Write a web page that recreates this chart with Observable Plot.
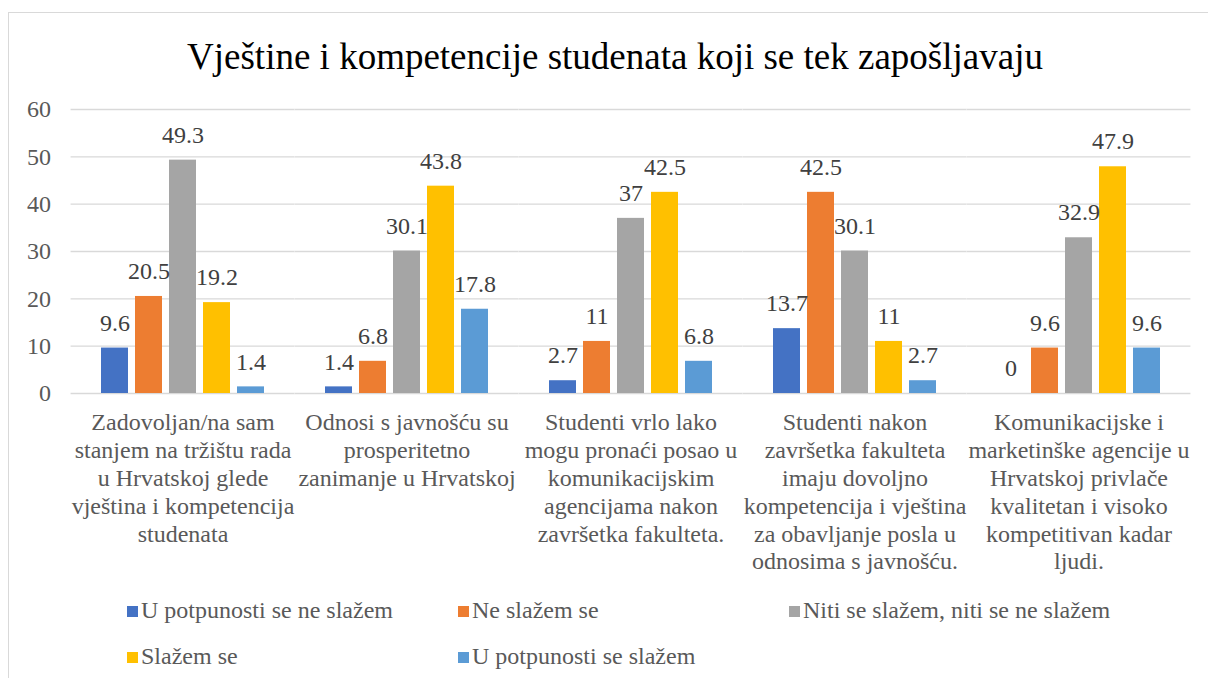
<!DOCTYPE html>
<html>
<head>
<meta charset="utf-8">
<script src="https://cdn.jsdelivr.net/npm/d3@7"></script>
<script src="https://cdn.jsdelivr.net/npm/@observablehq/plot@0.6"></script>
<style>
  html, body { margin: 0; padding: 0; background: #fff; width: 1208px; height: 678px; overflow: hidden; }
  body { position: relative; font-family: "Liberation Serif", "Times New Roman", serif; }
  #frame { position: absolute; left: 8px; top: 12px; width: 1220px; height: 700px; border: 1px solid #d9d9d9; box-sizing: border-box; }
  #title { position: absolute; left: 8px; width: 1214px; top: 38px; text-align: center; font-size: 37px; color: #000; line-height: 37px; white-space: nowrap; }
  #chart { position: absolute; left: 0; top: 90px; }
  .lg { position: absolute; font-size: 24px; color: #595959; line-height: 28px; white-space: nowrap; }
  .lg i { display: inline-block; width: 11px; height: 11px; margin-right: 3px; vertical-align: 1px; }
</style>
</head>
<body>
<div id="frame"></div>
<div id="title">Vještine i kompetencije studenata koji se tek zapošljavaju</div>
<div id="chart"></div>
<div id="legend"></div>
<script>
const categories = [
  "Zadovoljan/na sam stanjem na tržištu rada u Hrvatskoj glede vještina i kompetencija studenata",
  "Odnosi s javnošću su prosperitetno zanimanje u Hrvatskoj",
  "Studenti vrlo lako mogu pronaći posao u komunikacijskim agencijama nakon završetka fakulteta.",
  "Studenti nakon završetka fakulteta imaju dovoljno kompetencija i vještina za obavljanje posla u odnosima s javnošću.",
  "Komunikacijske i marketinške agencije u Hrvatskoj privlače kvalitetan i visoko kompetitivan kadar ljudi."
];
const categoryLabels = [
  "Zadovoljan/na sam\nstanjem na tržištu rada\nu Hrvatskoj glede\nvještina i kompetencija\nstudenata",
  "Odnosi s javnošću su\nprosperitetno\nzanimanje u Hrvatskoj",
  "Studenti vrlo lako\nmogu pronaći posao u\nkomunikacijskim\nagencijama nakon\nzavršetka fakulteta.",
  "Studenti nakon\nzavršetka fakulteta\nimaju dovoljno\nkompetencija i vještina\nza obavljanje posla u\nodnosima s javnošću.",
  "Komunikacijske i\nmarketinške agencije u\nHrvatskoj privlače\nkvalitetan i visoko\nkompetitivan kadar\nljudi."
];
const seriesNames = [
  "U potpunosti se ne slažem",
  "Ne slažem se",
  "Niti se slažem, niti se ne slažem",
  "Slažem se",
  "U potpunosti se slažem"
];
const seriesColors = ["#4472C4", "#ED7D31", "#A5A5A5", "#FFC000", "#5B9BD5"];
const uPotpunostiSeNeSlazem = [9.6, 1.4, 2.7, 13.7, 0];
const neSlazemSe = [20.5, 6.8, 11, 42.5, 9.6];
const nitiSeSlazem = [49.3, 30.1, 37, 30.1, 32.9];
const slazemSe = [19.2, 43.8, 42.5, 11, 47.9];
const uPotpunostiSeSlazem = [1.4, 17.8, 6.8, 2.7, 9.6];
const yTicks = [0, 10, 20, 30, 40, 50, 60];

const seriesValues = [uPotpunostiSeNeSlazem, neSlazemSe, nitiSeSlazem, slazemSe, uPotpunostiSeSlazem];
const data = [];
categories.forEach((c, i) => {
  seriesNames.forEach((s, j) => {
    data.push({category: c, series: s, value: seriesValues[j][i]});
  });
});
const labelOf = new Map(categories.map((c, i) => [c, categoryLabels[i]]));

const W = 1208, mL = 70, mR = 17;
const fxStep = (W - mL - mR) / 5;
const outerGap = fxStep * 0.1;

const chart = Plot.plot({
  width: W,
  height: 490,
  marginTop: 19,
  marginBottom: 187,
  marginLeft: mL,
  marginRight: mR,
  style: {fontFamily: "'Liberation Serif', 'Times New Roman', serif", fontSize: "24px", color: "#595959", background: "transparent"},
  fx: {domain: categories, paddingInner: 0.2, paddingOuter: 0.1, label: null},
  x: {domain: seriesNames, paddingInner: 0.2, paddingOuter: 0.2, axis: null},
  y: {domain: [0, 60], axis: null},
  color: {domain: seriesNames, range: seriesColors},
  marks: [
    Plot.ruleY(yTicks, {y: d => d, stroke: "#d9d9d9", strokeWidth: 1.3, insetLeft: -outerGap, insetRight: -outerGap}),
    Plot.axisY({ticks: yTicks, tickSize: 0, tickPadding: outerGap + 20, fontSize: 24, fill: "#595959", label: null}),
    Plot.axisFx({anchor: "bottom", tickSize: 0, tickPadding: 17, tickFormat: d => labelOf.get(d), lineHeight: 1.16, fontSize: 24, fill: "#595959", label: null}),
    Plot.barY(data, {fx: "category", x: "series", y: "value", fill: "series"}),
    Plot.text(data, {fx: "category", x: "series", y: "value", text: d => String(d.value), dy: -25, fill: "#404040", fontSize: 24})
  ]
});
document.getElementById("chart").appendChild(chart);

const legendPos = [[127, 596], [458, 596], [789, 596], [127, 642], [458, 642]];
const legend = document.getElementById("legend");
seriesNames.forEach((s, j) => {
  const el = document.createElement("div");
  el.className = "lg";
  el.style.left = legendPos[j][0] + "px";
  el.style.top = legendPos[j][1] + "px";
  el.innerHTML = `<i style="background:${seriesColors[j]}"></i>`;
  el.appendChild(document.createTextNode(s));
  legend.appendChild(el);
});
</script>
</body>
</html>
